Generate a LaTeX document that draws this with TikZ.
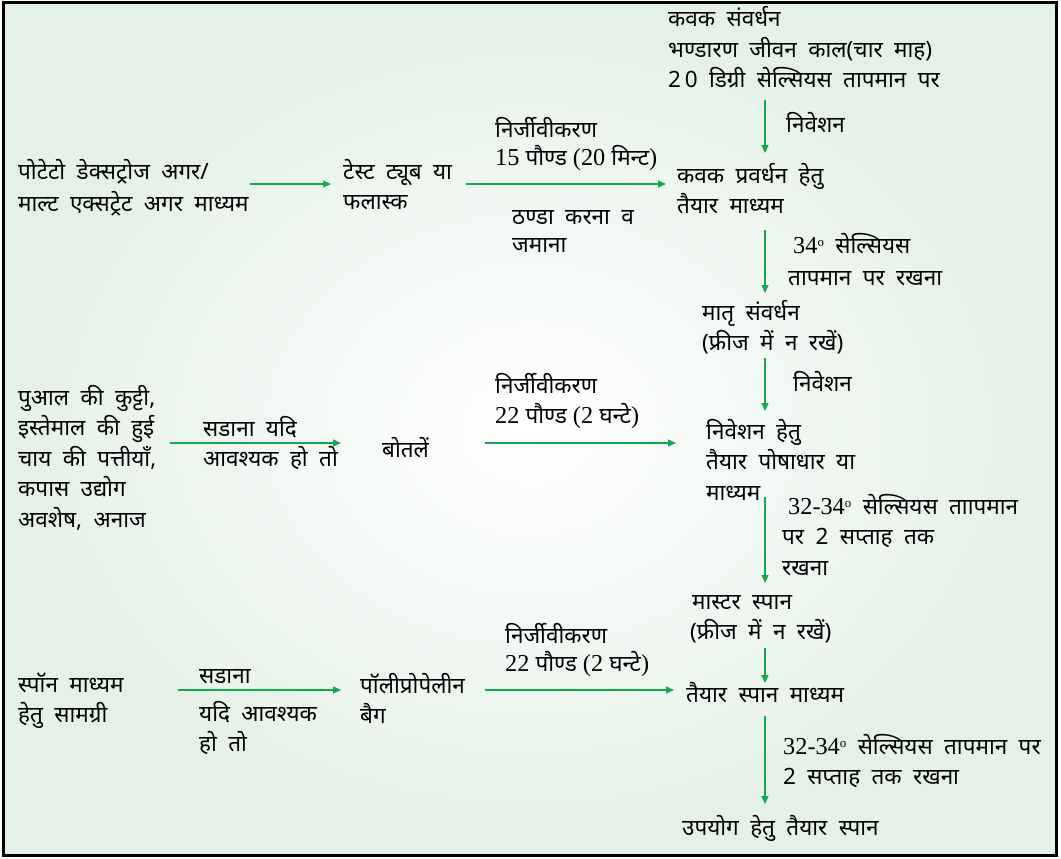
\documentclass[tikz,border=0pt]{standalone}
\usepackage{fontspec}
\setmainfont{Liberation Serif}
\newfontfamily\dev[Script=Devanagari,WordSpace=1.95]{Noto Sans}
\newfontfamily\tnr[Scale=1.08]{Liberation Serif}
\usetikzlibrary{arrows.meta}
\definecolor{agreen}{RGB}{20,168,80}
\definecolor{bgg}{RGB}{228,241,231}
\newcommand\tb[1]{\begin{tabular}[t]{@{}l@{}}#1\end{tabular}}
\newcommand\dg{\raisebox{7pt}{\fontsize{12}{12}\selectfont o}}
\newcommand\ts{{\tnr\ }}
\begin{document}
\begin{tikzpicture}[x=1pt,y=-1pt,
  txt/.style={anchor=base west,inner sep=0pt,font=\dev\fontsize{22.5}{30.5}\selectfont},
  arr/.style={draw=agreen,line width=1.3pt,-{Triangle[length=8pt,width=7pt]}}]
\useasboundingbox (0,0) rectangle (1061,859);
\shade[inner color=white,outer color=bgg] (3,3) rectangle (1056,855);
\draw[line width=3pt] (3,3) rectangle (1056,855);
% top column
\node[txt] (kavak) at (668,27) {\tb{कवक संवर्धन\\भण्डारण जीवन काल(चार माह)\\2\,0 डिग्री सेल्सियस तापमान पर}};
\coordinate (a1s) at (765,100); \coordinate (a1e) at (765,153);
\draw[arr] (a1s) -- (a1e);
\node[txt] (l1) at (786,132) {निवेशन};
% row 1
\node[txt] (pda) at (18,179) {\tb{पोटेटो डेक्सट्रोज अगर/\\[2pt]माल्ट एक्सट्रेट अगर माध्यम}};
\coordinate (b1s) at (250,184); \coordinate (b1e) at (331,184);
\draw[arr] (b1s) -- (b1e);
\node[txt] (tt) at (343,179) {\tb{टेस्ट ट्यूब या\\फलास्क}};
\coordinate (b2s) at (466,184); \coordinate (b2e) at (666,184);
\draw[arr] (b2s) -- (b2e);
\node[txt] (l2) at (495,137) {\tb{निर्जीवीकरण\\[-2pt]{\tnr 15 }पौण्ड\ts{\tnr (20 }मिन्ट{\tnr )}}};
\node[txt] (l3) at (512,224) {\tb{ठण्डा करना व\\[-2pt]जमाना}};
\node[txt] (kp) at (677,183) {\tb{कवक प्रवर्धन हेतु\\तैयार माध्यम}};
\coordinate (a2s) at (765,230); \coordinate (a2e) at (765,293);
\draw[arr] (a2s) -- (a2e);
\node[txt] (l4) at (793,253) {\tb{{\tnr 34\dg} सेल्सियस\\[2pt]\hspace{-5pt}तापमान पर रखना}};
\node[txt] (mat) at (702,320) {\tb{मातृ संवर्धन\\(फ्रीज में न रखें)}};
\coordinate (a3s) at (765,358); \coordinate (a3e) at (765,411);
\draw[arr] (a3s) -- (a3e);
\node[txt] (l5) at (793,391) {निवेशन};
% row 2
\node[txt] (nh) at (706,439) {\tb{निवेशन हेतु\\तैयार पोषाधार या\\माध्यम}};
\node[txt] (pual) at (18,405) {\tb{पुआल की कुट्टी,\\इस्तेमाल की हुई\\चाय की पत्तीयाँ,\\कपास उद्योग\\अवशेष, अनाज}};
\coordinate (c1s) at (170,443); \coordinate (c1e) at (341,443);
\draw[arr] (c1s) -- (c1e);
\node[txt] (l6) at (203,436) {\tb{सडाना यदि\\आवश्यक हो तो}};
\node[txt] (bot) at (382,457) {बोतलें};
\coordinate (c2s) at (485,443); \coordinate (c2e) at (676,443);
\draw[arr] (c2s) -- (c2e);
\node[txt] (l7) at (495,393) {\tb{निर्जीवीकरण\\{\tnr 22 }पौण्ड\ts{\tnr (2 }घन्टे{\tnr )}}};
\coordinate (a4s) at (765,497); \coordinate (a4e) at (765,583);
\draw[arr] (a4s) -- (a4e);
\node[txt] (l8) at (788,514) {\tb{{\tnr 32-34\dg} सेल्सियस ताापमान\\\hspace{-6pt}पर 2 सप्ताह तक\\\hspace{-6pt}रखना}};
\node[txt] (ms) at (692,609) {\tb{मास्टर स्पान\\\hspace{-2pt}(फ्रीज में न रखें)}};
\coordinate (a5s) at (765,648); \coordinate (a5e) at (765,683);
\draw[arr] (a5s) -- (a5e);
% row 3
\node[txt] (sp) at (18,692) {\tb{स्पॉन माध्यम\\हेतु सामग्री}};
\coordinate (d1s) at (178,690); \coordinate (d1e) at (341,690);
\draw[arr] (d1s) -- (d1e);
\node[txt] (l9) at (199,683) {सडाना};
\node[txt] (l10) at (199,721) {\tb{यदि आवश्यक\\हो तो}};
\node[txt] (pp) at (360,693) {\tb{पॉलीप्रोपेलीन\\बैग}};
\coordinate (d2s) at (485,690); \coordinate (d2e) at (674,690);
\draw[arr] (d2s) -- (d2e);
\node[txt] (l11) at (505,643) {\tb{निर्जीवीकरण\\[-2pt]{\tnr 22 }पौण्ड\ts{\tnr (2 }घन्टे{\tnr )}}};
\node[txt] (ts) at (686,702) {तैयार स्पान माध्यम};
\coordinate (a6s) at (765,716); \coordinate (a6e) at (765,804);
\draw[arr] (a6s) -- (a6e);
\node[txt] (l12) at (783,754) {\tb{{\tnr 32-34\dg} सेल्सियस तापमान पर\\2 सप्ताह तक रखना}};
\node[txt] (up) at (682,835) {उपयोग हेतु तैयार स्पान};
\end{tikzpicture}
\end{document}
